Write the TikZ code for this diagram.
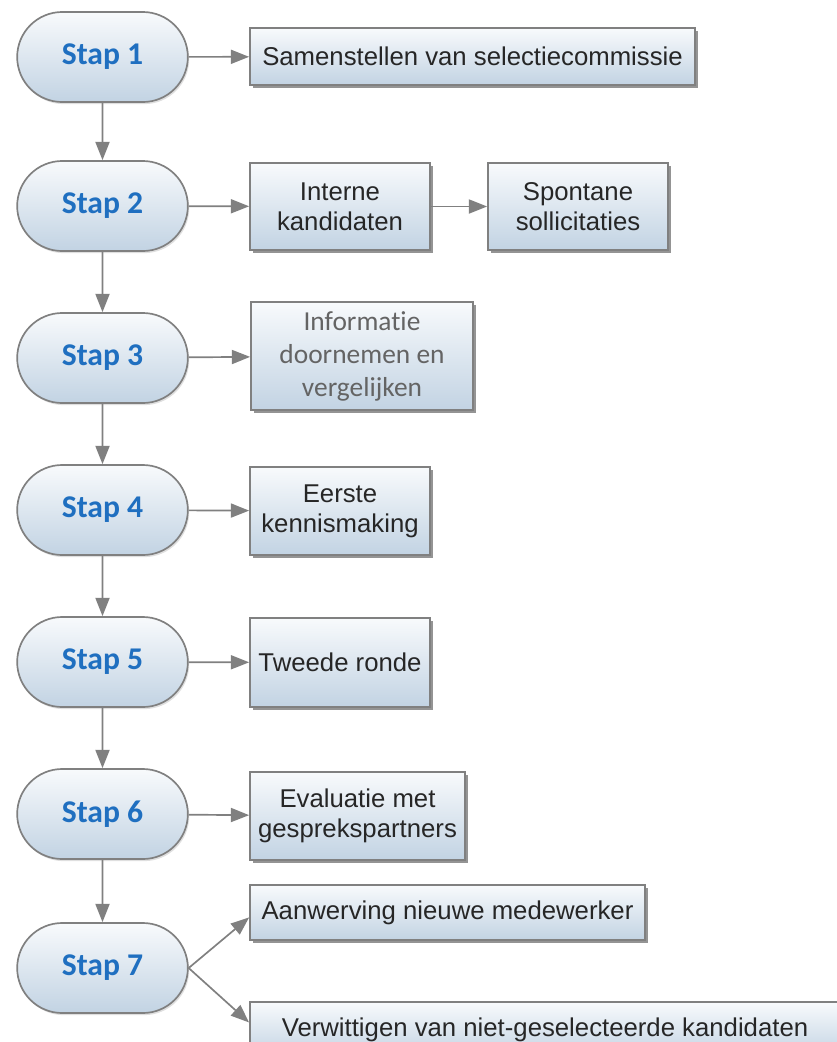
\documentclass[tikz,border=0pt]{standalone}
\usepackage{fontspec}
\setmainfont{Liberation Sans}
\newfontfamily\calfont[Ligatures=NoCommon]{Carlito}
\usetikzlibrary{shapes.misc,arrows.meta,shadows}
\definecolor{stapblauw}{RGB}{31,111,192}
\definecolor{lijngrijs}{RGB}{128,128,128}
\definecolor{vulboven}{RGB}{248,250,252}
\definecolor{vulonder}{RGB}{194,211,227}
\definecolor{tekstgrijs}{RGB}{100,100,100}

\begin{document}
\begin{tikzpicture}[x=0.025cm,y=-0.025cm,
	stapnode/.style={rounded rectangle,draw=lijngrijs,line width=1.2pt,minimum width=4.5cm,minimum height=2.25cm,top color=vulboven,bottom color=vulonder,drop shadow={shadow xshift=1pt,shadow yshift=-1.5pt,opacity=.25},font=\calfont\bfseries\fontsize{22.5}{26}\selectfont,text=stapblauw},
	taak/.style={rectangle,draw=lijngrijs,line width=1.2pt,top color=vulboven,bottom color=vulonder,drop shadow={shadow xshift=2.2pt,shadow yshift=-2.2pt,fill=black!60,opacity=.7},font=\fontsize{18.3}{21.3}\selectfont,text=black!85,align=center,inner sep=0pt},
	pijl/.style={draw=lijngrijs,line width=1.2pt,-{Triangle[length=13pt,width=10pt]}}]
			\clip (0,0) rectangle (837,1042);
			\foreach \i/\y in {1/57,2/206,3/358,4/510,5/662,6/814,7/968}
				\node[stapnode] (s\i) at (102.5,\y) {Stap \i};
			\node[taak,minimum width=11.125cm,minimum height=1.425cm] (sel) at (472.5,56.5) {Samenstellen van selectiecommissie};
			\node[taak,minimum width=4.5cm,minimum height=2.175cm] (intern) at (340,206.5) {Interne\\kandidaten};
			\node[taak,minimum width=4.5cm,minimum height=2.175cm] (spontaan) at (578,206.5) {Spontane\\sollicitaties};
			\node[taak,minimum width=5.55cm,minimum height=2.7cm,text=tekstgrijs,font=\calfont\fontsize{19.5}{23.5}\selectfont] (info) at (362,356) {Informatie\\doornemen en\\vergelijken};
			\node[taak,minimum width=4.5cm,minimum height=2.2cm] (kennis) at (340,511) {Eerste\\kennismaking};
			\node[taak,minimum width=4.5cm,minimum height=2.225cm] (tweede) at (340,662.5) {Tweede ronde};
			\node[taak,minimum width=5.375cm,minimum height=2.2cm] (evaluatie) at (357.5,816) {Evaluatie met\\gesprekspartners};
			\node[taak,minimum width=9.875cm,minimum height=1.375cm] (aanwerving) at (447.5,912.5) {Aanwerving nieuwe medewerker};
			\node[taak,minimum width=14.75cm,minimum height=1.375cm] (verwittigen) at (545,1029.5) {Verwittigen van niet-geselecteerde kandidaten};
			\foreach \a/\b in {1/2,2/3,3/4,4/5,5/6,6/7}
				\draw[pijl] (s\a) -- (s\b);
			\draw[pijl] (s1) -- (sel);
			\draw[pijl] (s2) -- (intern);
			\draw[pijl] (intern) -- (spontaan);
			\draw[pijl] (s3) -- (info);
			\draw[pijl] (s4) -- (kennis);
			\draw[pijl] (s5) -- (tweede);
			\draw[pijl] (s6) -- (evaluatie);
			\draw[pijl] (s7.east) -- ([yshift=-3.5pt]aanwerving.west);
			\draw[pijl] (s7.east) -- ([yshift=5pt]verwittigen.west);
			\end{tikzpicture}
\end{document}
